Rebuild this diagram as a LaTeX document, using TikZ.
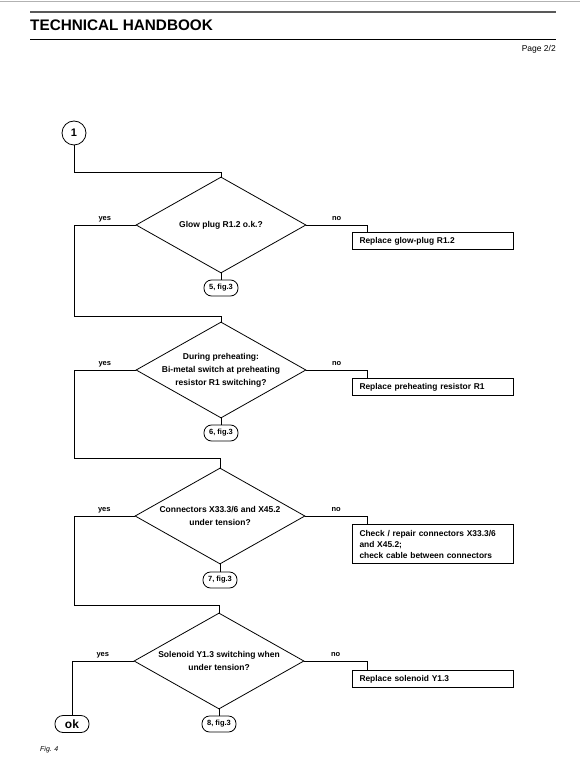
\documentclass[tikz,border=0pt]{standalone}
\usepackage{fontspec}
\setmainfont{Liberation Sans}
\usetikzlibrary{shapes.geometric, calc}

\begin{document}
\begin{tikzpicture}[x=1pt, y=-1pt,
    flow/.style={line width=0.8pt},
    query/.style={diamond, draw, line width=0.8pt, aspect=1.77, inner sep=-10pt,
        minimum width=170pt, minimum height=96pt, align=center,
        font=\fontsize{8.5}{13}\selectfont\bfseries},
    action/.style={rectangle, draw, line width=1pt, anchor=north west,
        minimum width=161pt, minimum height=17pt, text width=147pt,
        inner xsep=7pt, inner ysep=3pt, align=left,
        font=\fontsize{8.4}{11}\selectfont\bfseries},
    figref/.style={rectangle, draw, line width=0.8pt, rounded corners=7.5pt,
        minimum width=34pt, minimum height=16pt, inner sep=1pt,
        font=\fontsize{7.5}{9}\selectfont\bfseries},
    answer/.style={inner sep=2.5pt, text height=5.5pt, text depth=1.5pt,
        font=\fontsize{7.5}{9}\selectfont\bfseries}]

    % Page frame
    \useasboundingbox (0,0) rectangle (580,775);

    % Header rules and texts
    \draw[black!30, line width=0.6pt] (0,1) -- (580,1);
    \draw[black!65, line width=2pt] (30,12) -- (556,12);
    \node[anchor=base west, inner sep=0, font=\fontsize{15.3}{18}\selectfont\bfseries] (title) at (30,31) {TECHNICAL HANDBOOK};
    \draw[line width=1.2pt] (30,39.5) -- (556,39.5);
    \node[anchor=base east, inner sep=0, font=\fontsize{8.5}{10}\selectfont] (page) at (556,52) {Page 2/2};

    % Entry point
    \node[circle, draw, line width=0.8pt, minimum size=24pt, inner sep=0,
        font=\fontsize{11}{13}\selectfont\bfseries] (start) at (74,133) {1};

    % Questions
    \node[query] (q1) at (221,225) {Glow plug R1.2 o.k.?};
    \node[query] (q2) at (221,370) {During preheating:\\Bi-metal switch at preheating\\resistor R1 switching?};
    \node[query] (q3) at (220,516) {Connectors X33.3/6 and X45.2\\under tension?};
    \node[query] (q4) at (219,661) {Solenoid Y1.3 switching when\\under tension?};

    % Repairs
    \node[action] (r1) at (352,232) {Replace glow-plug R1.2};
    \node[action] (r2) at (352,378) {Replace preheating resistor R1};
    \node[action, inner ysep=5.5pt] (r3) at (352,524) {Check / repair connectors X33.3/6\\and X45.2;\\check cable between connectors};
    \node[action] (r4) at (352,670) {Replace solenoid Y1.3};

    % References to fig. 3
    \node[figref] (f1) at (221,288) {5, fig.3};
    \node[figref] (f2) at (221,433) {6, fig.3};
    \node[figref] (f3) at (220,580) {7, fig.3};
    \node[figref] (f4) at (219,724) {8, fig.3};

    % Exit
    \node[rectangle, draw, line width=0.8pt, rounded corners=8pt, minimum width=34pt,
        minimum height=17pt, inner sep=1pt, font=\fontsize{12}{14}\selectfont\bfseries] (ok) at (72,724) {ok};

    % Corner points of the yes branches
    \coordinate (s0) at (74,172);
    \coordinate (y1) at (74,316);
    \coordinate (y2) at (74,458);
    \coordinate (y3) at (74,605);

    % Main line
    \draw[flow] (start) -- (s0) -| (q1.north);
    \draw[flow] (q1.west) -| node[answer, pos=0.25, above] {yes} (y1) -| (q2.north);
    \draw[flow] (q2.west) -| node[answer, pos=0.25, above] {yes} (y2) -| (q3.north);
    \draw[flow] (q3.west) -| node[answer, pos=0.25, above] {yes} (y3) -| (q4.north);
    \draw[flow] (q4.west) -| node[answer, pos=0.25, above] {yes} (ok.north);

    % No branches
    \draw[flow] (q1.east) -| node[answer, pos=0.25, above] {no} ([xshift=15pt]r1.north west);
    \draw[flow] (q2.east) -| node[answer, pos=0.25, above] {no} ([xshift=15pt]r2.north west);
    \draw[flow] (q3.east) -| node[answer, pos=0.25, above] {no} ([xshift=15pt]r3.north west);
    \draw[flow] (q4.east) -| node[answer, pos=0.25, above] {no} ([xshift=15pt]r4.north west);

    % Links to fig. 3
    \draw[flow] (q1.south) -- (f1);
    \draw[flow] (q2.south) -- (f2);
    \draw[flow] (q3.south) -- (f3);
    \draw[flow] (q4.south) -- (f4);

    % Caption
    \node[anchor=base west, inner sep=0, font=\fontsize{7}{8}\selectfont\itshape] (caption) at (40,751) {Fig. 4};

\end{tikzpicture}
\end{document}
